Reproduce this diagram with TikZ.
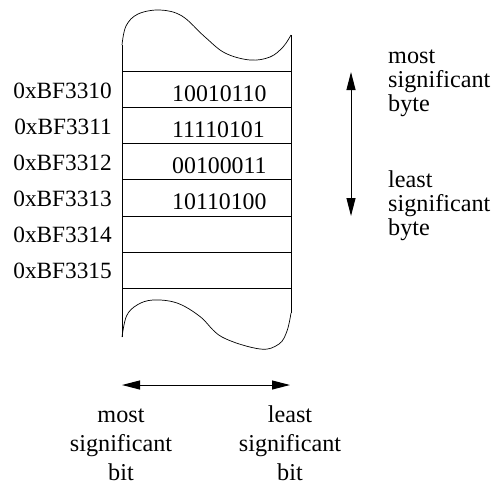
\documentclass[tikz,border=0pt]{standalone}
\usepackage{fontspec}
\setmainfont{Liberation Serif}
\usetikzlibrary{arrows.meta}
\tikzset{
  addr/.style={anchor=base east, inner sep=0pt, font=\fontsize{23.3}{26}\selectfont},
  val/.style={anchor=base west, inner sep=0pt, font=\fontsize{23.8}{26}\selectfont},
  word/.style={anchor=base west, inner sep=0pt, font=\fontsize{24.2}{26}\selectfont},
  cword/.style={anchor=base, inner sep=0pt, font=\fontsize{24.2}{26}\selectfont},
  cell/.style={line width=0.8pt},
  dbl/.style={line width=1pt, {Triangle[length=18pt,width=9pt]}-{Triangle[length=18pt,width=9pt]}}
}
\begin{document}
\begin{tikzpicture}[x=1pt,y=-1pt]
\useasboundingbox (0,0) rectangle (494,485);
% column sides
\draw[cell] (122,45) -- (122,337);
\draw[cell] (291,35) -- (291,313);
% top torn edge
\draw[line width=0.7pt] plot[smooth, tension=0.6] coordinates {(122,45) (126,26) (138,14) (160,10) (182,16) (205,37) (225,53) (250,60) (270,57) (283,47) (291,35)};
% bottom torn edge
\draw[line width=0.7pt] plot[smooth, tension=0.6] coordinates {(122,337) (126.5,316) (137,305) (153,300) (177,303) (200,316.5) (222,337) (260,349) (279,344) (287,331) (291,313)};
% row lines
\foreach \yy in {71,107,143,179,216,252,288} {\draw[cell] (122,\yy) -- (291,\yy);}
% addresses
\node[addr] (a0) at (112,98) {0xBF3310};
\node[addr] (a1) at (112,134) {0xBF3311};
\node[addr] (a2) at (112,170) {0xBF3312};
\node[addr] (a3) at (112,206) {0xBF3313};
\node[addr] (a4) at (112,242) {0xBF3314};
\node[addr] (a5) at (112,278) {0xBF3315};
% values
\node[val] (v0) at (172,101) {10010110};
\node[val] (v1) at (172,137) {11110101};
\node[val] (v2) at (172,173) {00100011};
\node[val] (v3) at (172,209) {10110100};
% byte order arrow
\coordinate (bt) at (351,72);
\coordinate (bb) at (351,216);
\draw[dbl] (bt) -- (bb);
\node[word] (m1) at (388,63) {most};
\node[word] (m2) at (388,87) {significant};
\node[word] (m3) at (388,111) {byte};
\node[word] (l1) at (388,187) {least};
\node[word] (l2) at (388,211) {significant};
\node[word] (l3) at (388,235) {byte};
% bit order arrow
\coordinate (hl) at (122,385);
\coordinate (hr) at (290,385);
\draw[dbl] (hl) -- (hr);
\node[cword] (b1) at (121,422) {most};
\node[cword] (b2) at (121,451) {significant};
\node[cword] (b3) at (121,480) {bit};
\node[cword] (c1) at (290,422) {least};
\node[cword] (c2) at (290,451) {significant};
\node[cword] (c3) at (290,480) {bit};
\end{tikzpicture}
\end{document}
